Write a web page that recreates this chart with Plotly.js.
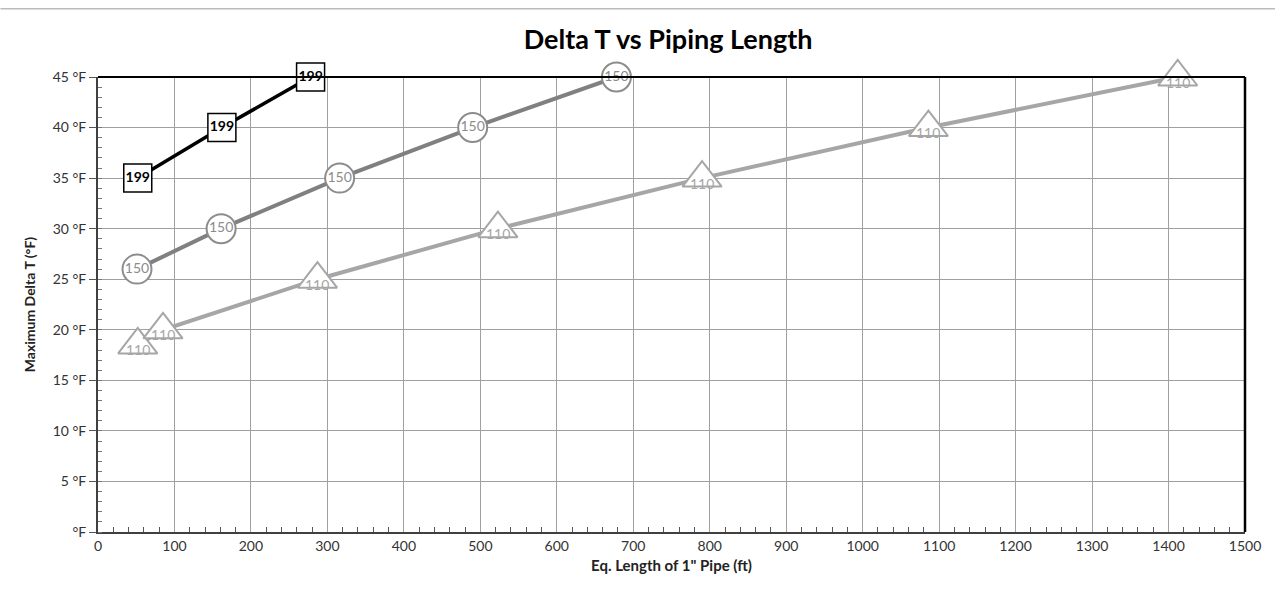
<!DOCTYPE html>
<html>
<head>
<meta charset="utf-8">
<script src="https://cdn.plot.ly/plotly-3.0.1.min.js"></script>
<style>html,body{margin:0;padding:0;background:#fff;}#chart{width:1275px;height:606px;}</style>
</head>
<body>
<div id="chart"></div>
<script>
// Series 199
const len199 = [52, 162, 278];
const dt199 = [35, 40, 45];
const lbl199 = ["199", "199", "199"];
// Series 150
const len150 = [51, 161, 316, 490, 678];
const dt150 = [26, 30, 35, 40, 45];
const lbl150 = ["150", "150", "150", "150", "150"];
// Series 110
const len110 = [52, 85, 287, 523, 790, 1086, 1412];
const dt110 = [18.5, 20, 25, 30, 35, 40, 45];
const lbl110 = ["110", "110", "110", "110", "110", "110", "110"];
// Axis ticks
const yTickVals = [0, 5, 10, 15, 20, 25, 30, 35, 40, 45];
const yTickText = ["°F", "5 °F", "10 °F", "15 °F", "20 °F", "25 °F", "30 °F", "35 °F", "40 °F", "45 °F"];

const font = "Lato, 'Open Sans', sans-serif";

const traces = [
  {
    x: len110, y: dt110, mode: "lines+markers", type: "scatter",
    line: {color: "#a6a6a6", width: 4},
    marker: {symbol: "triangle-up", size: 34, color: "#ffffff", line: {color: "#a6a6a6", width: 2}},
    cliponaxis: false, hoverinfo: "x+y"
  },
  {
    x: len150, y: dt150, text: lbl150, mode: "lines+markers+text", type: "scatter",
    line: {color: "#808080", width: 4},
    marker: {symbol: "circle", size: 29, color: "#ffffff", line: {color: "#8c8c8c", width: 2}},
    textposition: "middle center", textfont: {family: font, size: 14, color: "#8c8c8c"},
    cliponaxis: false, hoverinfo: "x+y"
  },
  {
    x: len199, y: dt199, text: lbl199, mode: "lines+markers+text", type: "scatter",
    line: {color: "#000000", width: 3.5},
    marker: {symbol: "square", size: 28, color: "#ffffff", line: {color: "#000000", width: 1.5}},
    textposition: "middle center", textfont: {family: font, size: 14, color: "#000000", weight: "bold"},
    cliponaxis: false, hoverinfo: "x+y"
  }
];

// labels for the triangle series sit slightly below the point (inside the triangle base)
const annotations = len110.map((x, i) => ({
  x: x, y: dt110[i], text: lbl110[i], showarrow: false, yshift: -5,
  font: {family: font, size: 14, color: "#a6a6a6"}
}));

const layout = {
  width: 1275, height: 606,
  margin: {l: 98, r: 30, t: 77, b: 74},
  paper_bgcolor: "#ffffff", plot_bgcolor: "#ffffff",
  showlegend: false,
  annotations: annotations,
  title: {text: "<b>Delta T vs Piping Length</b>", x: 0.524, xanchor: "center", y: 0.935, yanchor: "middle",
          font: {family: font, size: 27, color: "#000000"}},
  xaxis: {
    range: [0, 1500], dtick: 100, tick0: 0,
    showgrid: true, gridcolor: "#a0a0a0", gridwidth: 1,
    showline: true, linecolor: "#404040", linewidth: 2, mirror: false,
    zeroline: false,
    ticks: "", tickfont: {family: font, size: 14, color: "#333333"},
    minor: {dtick: 20, ticks: "inside", ticklen: 5, tickcolor: "#555555", showgrid: false},
    title: {text: "<b>Eq. Length of 1\" Pipe (ft)</b>", font: {family: font, size: 15, color: "#222222"}, standoff: 8}
  },
  yaxis: {
    range: [0, 45], tickvals: yTickVals, ticktext: yTickText,
    showgrid: true, gridcolor: "#a0a0a0", gridwidth: 1,
    showline: true, linecolor: "#404040", linewidth: 2,
    zeroline: false,
    ticks: "outside", ticklen: 7, tickcolor: "#555555",
    tickfont: {family: font, size: 14, color: "#333333"},
    minor: {dtick: 1, ticks: "inside", ticklen: 4, tickcolor: "#777777", showgrid: false},
    title: {text: "<b>Maximum Delta T (°F)</b>", font: {family: font, size: 14, color: "#222222"}, standoff: 14}
  },
  shapes: [
    {type: "line", xref: "paper", yref: "paper", x0: 0, x1: 1, y0: 1, y1: 1, line: {color: "#000000", width: 2}},
    {type: "line", xref: "paper", yref: "paper", x0: 1, x1: 1, y0: 0, y1: 1, line: {color: "#000000", width: 2.5}},
    {type: "line", xref: "paper", yref: "paper", x0: -0.085, x1: 1.03, y0: 1.15, y1: 1.15, line: {color: "#bbbbbb", width: 1.5}}
  ]
};

Plotly.newPlot("chart", traces, layout, {displayModeBar: false, staticPlot: true});
</script>
</body>
</html>
